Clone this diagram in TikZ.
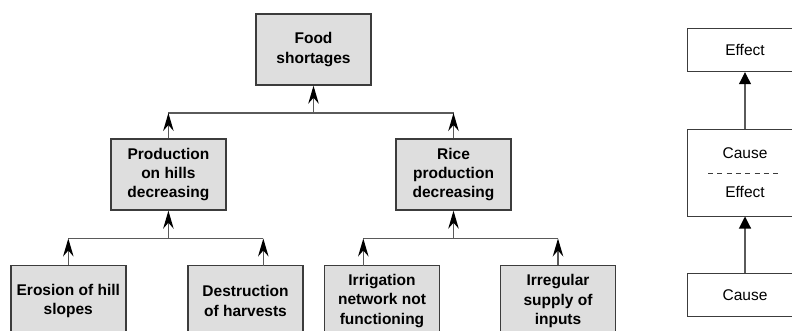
\documentclass[tikz,border=0pt]{standalone}
\usepackage{fontspec}
\setmainfont{Liberation Sans}
\usetikzlibrary{arrows.meta}
\definecolor{boxfill}{HTML}{DEDEDE}
\definecolor{boxline}{HTML}{3C3C3C}
\definecolor{linkline}{HTML}{5A5A5A}
\tikzset{
  treebox/.style={draw=boxline, line width=1.4pt, fill=boxfill,
    minimum width=115pt, minimum height=71pt, inner sep=2pt,
    align=center, font=\fontsize{15.5}{19.3}\selectfont\bfseries},
  keybox/.style={draw=boxline, line width=1pt, fill=white,
    minimum width=116pt, inner sep=2pt,
    align=center, font=\fontsize{15.5}{19}\selectfont},
  link/.style={draw=linkline, line width=1.3pt},
  uparrow/.style={link, -{Stealth[length=18pt,width=10.5pt,inset=6pt,color=black]}},
  keyarrow/.style={draw=linkline, line width=1.1pt, -{Triangle[length=12pt,width=12pt,color=black]}}
}
\begin{document}
\begin{tikzpicture}[x=1pt,y=-1pt]
\useasboundingbox (0,0) rectangle (792,331);
\clip (0,0) rectangle (792,331);

% problem tree
\node[treebox] (food) at (313.5,49.5) {Food\\shortages};
\node[treebox] (prod) at (168.4,174.5) {Production\\on hills\\decreasing};
\node[treebox] (rice) at (453.5,174.5) {Rice\\production\\decreasing};
\node[treebox] (eros) at (68.3,301) {Erosion of hill\\slopes};
\node[treebox] (destr) at (245.5,301) {Destruction\\of harvests};
\node[treebox] (irrig) at (382,301) {Irrigation\\network not\\functioning};
\node[treebox] (supply) at (558,301) {Irregular\\supply of\\inputs};

% junction points on the collecting bars
\coordinate (topbar) at (313.5,113);
\coordinate (leftbar) at (168.4,238.5);
\coordinate (rightbar) at (453.5,238.5);
\coordinate (destrin) at (263.3,265.5);
\coordinate (irrigin) at (363.3,265.5);

% upper level
\draw[link] (prod.north |- topbar) -- (rice.north |- topbar);
\draw[uparrow] (prod.north) -- (prod.north |- topbar);
\draw[uparrow] (rice.north) -- (rice.north |- topbar);
\draw[uparrow] (topbar) -- (food.south);

% lower level, left branch
\draw[link] (eros.north |- leftbar) -- (destrin |- leftbar);
\draw[uparrow] (eros.north) -- (eros.north |- leftbar);
\draw[uparrow] (destrin) -- (destrin |- leftbar);
\draw[uparrow] (leftbar) -- (prod.south);

% lower level, right branch
\draw[link] (irrigin |- rightbar) -- (supply.north |- rightbar);
\draw[uparrow] (irrigin) -- (irrigin |- rightbar);
\draw[uparrow] (supply.north) -- (supply.north |- rightbar);
\draw[uparrow] (rightbar) -- (rice.south);

% key: cause and effect
\node[keybox, minimum height=43.4pt] (keyeffect) at (745,50) {Effect};
\node[keybox, minimum height=86pt] (keymid) at (745,173) {};
\node[keybox, minimum height=43.4pt] (keycause) at (745,295) {Cause};
\node[font=\fontsize{15.5}{19}\selectfont] (midcause) at (745,153) {Cause};
\node[font=\fontsize{15.5}{19}\selectfont] (mideffect) at (745,192) {Effect};
\coordinate (dashl) at (708,173.3);
\coordinate (dashr) at (782,173.3);
\draw[draw=boxline, line width=1pt, dash pattern=on 5pt off 4.3pt] (dashl) -- (dashr);
\draw[keyarrow] (keymid.north) -- (keyeffect.south);
\draw[keyarrow] (keycause.north) -- (keymid.south);
\end{tikzpicture}
\end{document}
